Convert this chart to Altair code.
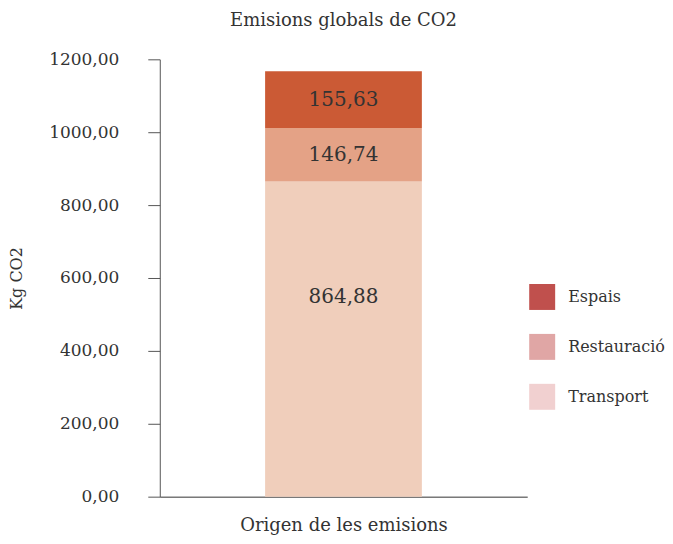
import altair as alt
import pandas as pd

categories = ["Transport", "Restauració", "Espais"]
values = [864.88, 146.74, 155.63]
stack_order = [0, 1, 2]
bar_colors = ["#f0cebb", "#e4a286", "#cb5a35"]
legend_domain = ["Espais", "Restauració", "Transport"]
legend_colors = ["#c0504d", "#e0a6a5", "#f1d0d0"]
group = "Origen de les emisions"

df = pd.DataFrame({
    "cat": categories,
    "value": values,
    "ord": stack_order,
    "grp": [group] * len(categories),
})

FONT = "DejaVu Serif"
TXT = "#333333"

base = alt.Chart(df).transform_stack(
    stack="value", as_=["y0", "y1"], groupby=["grp"],
    sort=[alt.SortField("ord", order="ascending")]
).transform_calculate(
    mid="(datum.y0 + datum.y1) / 2",
    lbl="replace(format(datum.value, '.2f'), '.', ',')"
)

xenc = alt.X("grp:N", title=group,
             axis=alt.Axis(labels=False, ticks=False, domain=True, domainColor="#333333",
                           titleFont=FONT, titleFontSize=18, titleFontWeight="normal",
                           titleColor=TXT, titlePadding=20))

yscale = alt.Scale(domain=[0, 1200])

bars = base.mark_bar(size=157).encode(
    x=xenc,
    y=alt.Y("y0:Q", scale=yscale, title="Kg CO2",
            axis=alt.Axis(values=[0, 200, 400, 600, 800, 1000, 1200], grid=False,
                          labelExpr="replace(format(datum.value, '.2f'), '.', ',')",
                          tickSize=12, tickColor="#555555", domainColor="#555555",
                          labelFont=FONT, labelFontSize=17, labelColor=TXT, labelPadding=29,
                          titleFont=FONT, titleFontSize=16, titleFontWeight="normal",
                          titleColor=TXT, titlePadding=24)),
    y2="y1:Q",
    fill=alt.Fill("cat:N", scale=alt.Scale(domain=categories, range=bar_colors), legend=None),
)

labels_top = base.transform_filter("datum.cat != 'Transport'").mark_text(
    font=FONT, fontSize=20, color=TXT).encode(
    x=alt.X("grp:N"),
    y=alt.Y("mid:Q", scale=yscale),
    text="lbl:N",
)

labels_bottom = base.transform_filter("datum.cat == 'Transport'").mark_text(
    font=FONT, fontSize=20, color=TXT, dy=-42).encode(
    x=alt.X("grp:N"),
    y=alt.Y("mid:Q", scale=yscale),
    text="lbl:N",
)

legend_layer = alt.Chart(df).mark_point(size=0, opacity=0, filled=True, shape="square").encode(
    x=alt.X("grp:N"),
    y=alt.Y("value:Q", scale=yscale),
    color=alt.Color("cat:N", scale=alt.Scale(domain=legend_domain, range=legend_colors),
                    legend=alt.Legend(title=None, orient="none", legendX=370, legendY=225,
                                      symbolType="square", symbolSize=676, symbolOpacity=1,
                                      symbolStrokeWidth=0, labelFont=FONT, labelFontSize=16,
                                      labelColor=TXT, labelOffset=13, rowPadding=24, padding=0)),
)

chart = alt.layer(bars, labels_top, labels_bottom, legend_layer).resolve_scale(
    color="independent", fill="independent"
).properties(
    width=368, height=438,
    padding={"top": 4, "left": 0, "right": 0, "bottom": 0},
    title=alt.TitleParams("Emisions globals de CO2", font=FONT, fontSize=18,
                          fontWeight="normal", color=TXT, anchor="middle", offset=20),
).configure_view(stroke=None)

chart.save("out.html", embed_options={"renderer": "svg", "actions": False})
